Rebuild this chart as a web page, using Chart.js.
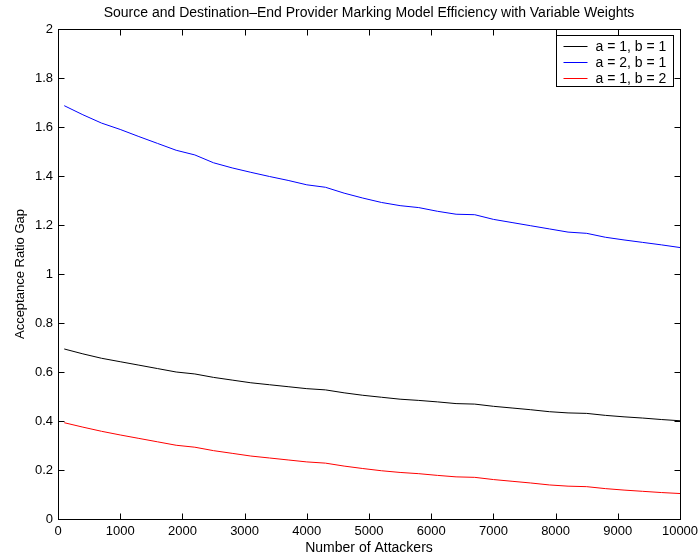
<!DOCTYPE html>
<html lang="en">
<head>
  <meta charset="UTF-8">
  <title>Source and Destination-End Provider Marking Model Efficiency</title>
  <script src="https://cdn.jsdelivr.net/npm/chart.js"></script>
  <style>
    html, body { margin: 0; padding: 0; background: #fff; }
    #wrap { width: 700px; height: 558px; }
  </style>
</head>
<body>
  <div id="wrap"><canvas id="chart" width="700" height="558"></canvas></div>
  <script>
    // number of attackers (x) and the three weight settings
    const attackers = [100, 400, 700, 1000, 1300, 1600, 1900, 2200, 2500, 2800,
      3100, 3400, 3700, 4000, 4300, 4600, 4900, 5200, 5500, 5800,
      6100, 6400, 6700, 7000, 7300, 7600, 7900, 8200, 8500, 8800,
      9100, 9400, 9700, 10000];
    const gapA1B1 = [0.694, 0.674, 0.656, 0.642, 0.628, 0.614, 0.600, 0.592, 0.578, 0.567,
      0.556, 0.548, 0.540, 0.532, 0.527, 0.515, 0.505, 0.497, 0.489, 0.484,
      0.478, 0.471, 0.469, 0.460, 0.453, 0.446, 0.438, 0.433, 0.431, 0.423,
      0.417, 0.412, 0.406, 0.401];
    const gapA2B1 = [1.687, 1.650, 1.616, 1.590, 1.561, 1.533, 1.505, 1.486, 1.454, 1.433,
      1.415, 1.398, 1.382, 1.364, 1.354, 1.330, 1.310, 1.292, 1.279, 1.271,
      1.256, 1.244, 1.242, 1.223, 1.210, 1.197, 1.184, 1.171, 1.166, 1.150,
      1.139, 1.129, 1.119, 1.108];
    const gapA1B2 = [0.393, 0.375, 0.358, 0.343, 0.329, 0.315, 0.301, 0.293, 0.279, 0.268,
      0.257, 0.249, 0.241, 0.233, 0.228, 0.216, 0.206, 0.197, 0.190, 0.185,
      0.178, 0.172, 0.170, 0.161, 0.154, 0.147, 0.139, 0.134, 0.132, 0.124,
      0.118, 0.113, 0.108, 0.104];
    const seriesLabels = ['a = 1, b = 1', 'a = 2, b = 1', 'a = 1, b = 2'];
    const seriesColors = ['#000000', '#0000ff', '#ff0000'];
    const xTicks = [0, 1000, 2000, 3000, 4000, 5000, 6000, 7000, 8000, 9000, 10000];
    const yTicks = [0, 0.2, 0.4, 0.6, 0.8, 1, 1.2, 1.4, 1.6, 1.8, 2];

    const FONT = '"Liberation Sans", Arial, Helvetica, sans-serif';
    const tickFont = { family: FONT, size: 13, weight: 'normal' };
    const labelFont = { family: FONT, size: 14, weight: 'normal' };

    const toPoints = vals => attackers.map((a, i) => ({ x: a, y: vals[i] }));

    // matlab-like box with inward ticks on all four sides
    const frameAndTicks = {
      id: 'frameAndTicks',
      afterDatasetsDraw(chart) {
        const { ctx, chartArea: a, scales: { x, y } } = chart;
        const L = Math.round(a.left) + 0.5, R = Math.round(a.right) + 0.5;
        const T = Math.round(a.top) + 0.5, B = Math.round(a.bottom) + 0.5;
        ctx.save();
        ctx.strokeStyle = '#000';
        ctx.lineWidth = 1;
        ctx.beginPath();
        xTicks.forEach(v => {
          const px = Math.round(x.getPixelForValue(v)) + 0.5;
          ctx.moveTo(px, B); ctx.lineTo(px, B - 6);
          ctx.moveTo(px, T); ctx.lineTo(px, T + 6);
        });
        yTicks.forEach(v => {
          const py = Math.round(y.getPixelForValue(v)) + 0.5;
          ctx.moveTo(L, py); ctx.lineTo(L + 6, py);
          ctx.moveTo(R, py); ctx.lineTo(R - 6, py);
        });
        ctx.stroke();
        ctx.strokeRect(L, T, R - L, B - T);
        ctx.restore();
      }
    };

    // legend box in the top right corner of the plot
    const boxLegend = {
      id: 'boxLegend',
      afterDraw(chart) {
        const { ctx, chartArea: a } = chart;
        const sets = chart.data.datasets;
        ctx.save();
        ctx.font = '14px ' + FONT;
        const textW = Math.max(...sets.map(d => ctx.measureText(d.label).width));
        const w = Math.round(39 + textW + 7);
        const h = sets.length * 16 + 3;
        const left = Math.round(a.right - 7 - w) + 0.5;
        const top = Math.round(a.top + 6) + 0.5;
        ctx.fillStyle = '#fff';
        ctx.fillRect(left, top, w, h);
        ctx.strokeStyle = '#000';
        ctx.lineWidth = 1;
        ctx.strokeRect(left, top, w, h);
        ctx.textBaseline = 'middle';
        ctx.textAlign = 'left';
        sets.forEach((d, i) => {
          const cy = Math.round(top + 10 + i * 16) + 0.5;
          ctx.strokeStyle = d.borderColor;
          ctx.beginPath();
          ctx.moveTo(left + 7, cy);
          ctx.lineTo(left + 31, cy);
          ctx.stroke();
          ctx.fillStyle = '#000';
          ctx.fillText(d.label, left + 39, cy + 0.5);
        });
        ctx.restore();
      }
    };

    const datasets = [gapA1B1, gapA2B1, gapA1B2].map((vals, i) => ({
      label: seriesLabels[i],
      data: toPoints(vals),
      borderColor: seriesColors[i],
      borderWidth: 1,
      pointRadius: 0,
      tension: 0,
      fill: false
    }));

    new Chart(document.getElementById('chart'), {
      type: 'line',
      data: { datasets },
      options: {
        responsive: false,
        animation: false,
        events: [],
        layout: { padding: { left: 0, right: 20, top: 0, bottom: 0 } },
        plugins: {
          legend: { display: false },
          tooltip: { enabled: false },
          title: {
            display: true,
            fullSize: false,
            text: 'Source and Destination\u2013End Provider Marking Model Efficiency with Variable Weights',
            color: '#000',
            font: labelFont,
            padding: { top: 5, bottom: 7.2 }
          }
        },
        scales: {
          x: {
            type: 'linear',
            min: 0,
            max: 10000,
            afterBuildTicks: s => { s.ticks = xTicks.map(v => ({ value: v })); },
            afterFit: s => { s.height = 39; s.paddingLeft = 0; s.paddingRight = 0; },
            grid: { display: false, drawTicks: false },
            border: { display: false },
            ticks: { color: '#000', font: tickFont, padding: 5, maxRotation: 0, autoSkip: false, callback: v => String(v) },
            title: { display: true, text: 'Number of Attackers', color: '#000', font: labelFont, padding: { top: 0, bottom: 1.5 } }
          },
          y: {
            min: 0,
            max: 2,
            afterBuildTicks: s => { s.ticks = yTicks.map(v => ({ value: v })); },
            afterFit: s => { s.width = 58; },
            grid: { display: false, drawTicks: false },
            border: { display: false },
            ticks: { color: '#000', font: tickFont, padding: 5, callback: v => String(+v.toFixed(1)) },
            title: { display: true, text: 'Acceptance Ratio Gap', color: '#000', font: tickFont, padding: { top: 13, bottom: 0 } }
          }
        }
      },
      plugins: [frameAndTicks, boxLegend]
    });
  </script>
</body>
</html>
